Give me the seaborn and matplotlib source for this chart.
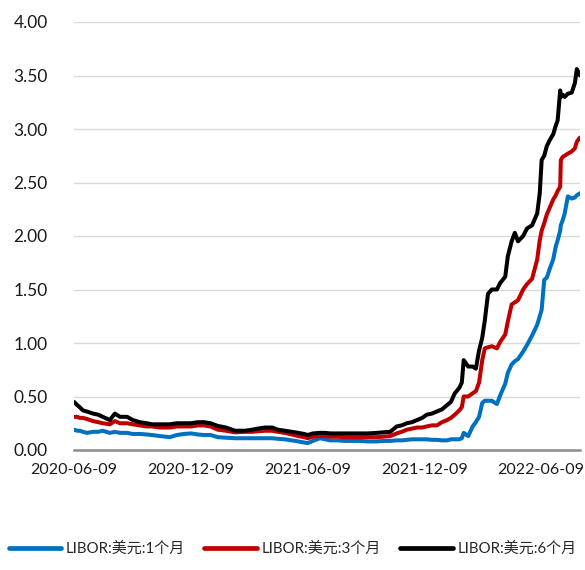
import matplotlib
matplotlib.use("Agg")
import matplotlib.pyplot as plt
import seaborn as sns
import pandas as pd

dates = [
    "2020-06-09", "2020-06-14", "2020-06-18", "2020-06-23", "2020-06-29", "2020-07-09",
    "2020-07-17", "2020-07-24", "2020-08-04", "2020-08-12", "2020-08-20", "2020-08-31",
    "2020-09-09", "2020-09-20", "2020-10-01", "2020-10-09", "2020-10-22", "2020-11-06",
    "2020-11-17", "2020-11-28", "2020-12-09", "2020-12-20", "2020-12-29", "2021-01-09",
    "2021-01-20", "2021-02-02", "2021-02-16", "2021-03-04", "2021-03-15", "2021-03-24",
    "2021-04-04", "2021-04-15", "2021-04-24", "2021-05-05", "2021-05-16", "2021-05-26",
    "2021-06-04", "2021-06-10", "2021-06-18", "2021-06-29", "2021-07-07", "2021-07-15",
    "2021-07-26", "2021-08-07", "2021-08-18", "2021-08-31", "2021-09-12", "2021-09-26",
    "2021-10-06", "2021-10-17", "2021-10-27", "2021-11-04", "2021-11-12", "2021-11-20",
    "2021-11-28", "2021-12-06", "2021-12-13", "2021-12-21", "2021-12-29",
    "2022-01-06", "2022-01-14", "2022-01-20", "2022-01-26", "2022-02-02", "2022-02-06",
    "2022-02-09", "2022-02-16", "2022-02-23", "2022-02-28", "2022-03-05", "2022-03-10",
    "2022-03-14", "2022-03-19", "2022-03-25", "2022-04-02", "2022-04-07", "2022-04-15",
    "2022-04-19", "2022-04-25", "2022-04-30", "2022-05-05", "2022-05-13", "2022-05-19",
    "2022-05-27", "2022-06-04", "2022-06-08", "2022-06-11", "2022-06-15", "2022-06-19",
    "2022-06-24", "2022-06-29", "2022-07-03", "2022-07-06", "2022-07-10", "2022-07-11",
    "2022-07-14", "2022-07-17", "2022-07-22", "2022-07-28", "2022-08-02", "2022-08-05",
    "2022-08-10",
]

libor_6m = [
    0.45, 0.42, 0.40, 0.37, 0.36, 0.34,
    0.33, 0.31, 0.28, 0.34, 0.31, 0.31,
    0.28, 0.26, 0.25, 0.24, 0.24, 0.24,
    0.25, 0.25, 0.25, 0.26, 0.26, 0.25,
    0.225, 0.21, 0.18, 0.18, 0.19, 0.20,
    0.21, 0.21, 0.19, 0.18, 0.17, 0.16,
    0.15, 0.14, 0.155, 0.16, 0.16, 0.155,
    0.155, 0.155, 0.155, 0.155, 0.155, 0.16,
    0.165, 0.17, 0.22, 0.23, 0.25, 0.26,
    0.28, 0.30, 0.33, 0.34, 0.36,
    0.38, 0.42, 0.45, 0.53, 0.58, 0.63,
    0.84, 0.78, 0.78, 0.76, 0.93, 1.05,
    1.21, 1.46, 1.50, 1.50, 1.56, 1.62,
    1.81, 1.95, 2.03, 1.95, 2.00, 2.07,
    2.10, 2.21, 2.40, 2.71, 2.75, 2.84,
    2.90, 2.95, 3.03, 3.08, 3.36, 3.30,
    3.32, 3.30, 3.33, 3.34, 3.43, 3.56,
    3.50,
]

libor_3m = [
    0.31, 0.31, 0.30, 0.30, 0.29, 0.27,
    0.26, 0.25, 0.24, 0.27, 0.25, 0.25,
    0.24, 0.23, 0.22, 0.22, 0.21, 0.21,
    0.22, 0.22, 0.22, 0.23, 0.23, 0.22,
    0.19, 0.18, 0.165, 0.17, 0.17, 0.175,
    0.18, 0.18, 0.17, 0.16, 0.145, 0.13,
    0.12, 0.11, 0.125, 0.13, 0.13, 0.125,
    0.125, 0.12, 0.12, 0.12, 0.12, 0.12,
    0.125, 0.13, 0.155, 0.17, 0.19, 0.20,
    0.21, 0.21, 0.22, 0.23, 0.23,
    0.26, 0.28, 0.30, 0.33, 0.37, 0.40,
    0.50, 0.50, 0.53, 0.55, 0.63, 0.84,
    0.95, 0.96, 0.97, 0.95, 1.01, 1.08,
    1.20, 1.36, 1.38, 1.40, 1.50, 1.55,
    1.60, 1.78, 1.96, 2.05, 2.12, 2.20,
    2.27, 2.34, 2.38, 2.42, 2.46, 2.71,
    2.74, 2.75, 2.77, 2.79, 2.82, 2.88,
    2.92,
]

libor_1m = [
    0.19, 0.18, 0.18, 0.17, 0.16, 0.17,
    0.17, 0.18, 0.16, 0.17, 0.16, 0.16,
    0.15, 0.15, 0.145, 0.14, 0.13, 0.12,
    0.14, 0.15, 0.155, 0.145, 0.14, 0.14,
    0.12, 0.115, 0.11, 0.11, 0.11, 0.11,
    0.11, 0.11, 0.105, 0.10, 0.09, 0.08,
    0.07, 0.065, 0.085, 0.11, 0.10, 0.09,
    0.09, 0.085, 0.085, 0.085, 0.08, 0.08,
    0.085, 0.085, 0.09, 0.09, 0.095, 0.10,
    0.10, 0.10, 0.10, 0.095, 0.095,
    0.09, 0.09, 0.10, 0.10, 0.10, 0.11,
    0.16, 0.13, 0.22, 0.26, 0.31, 0.44,
    0.46, 0.46, 0.46, 0.43, 0.51, 0.62,
    0.72, 0.80, 0.83, 0.85, 0.92, 0.98,
    1.07, 1.17, 1.25, 1.31, 1.59, 1.61,
    1.70, 1.78, 1.90, 1.96, 2.05, 2.10,
    2.15, 2.21, 2.37, 2.35, 2.36, 2.38,
    2.40,
]

series_names = ["LIBOR:美元:1个月", "LIBOR:美元:3个月", "LIBOR:美元:6个月"]
colors = ["#0070C0", "#C00000", "#000000"]
y_ticks = [0.0, 0.5, 1.0, 1.5, 2.0, 2.5, 3.0, 3.5, 4.0]
x_ticks = ["2020-06-09", "2020-12-09", "2021-06-09", "2021-12-09", "2022-06-09"]

sns.set_theme(style="white")
plt.rcParams["font.family"] = ["Lato", "Noto Sans CJK SC", "DejaVu Sans"]

d = pd.to_datetime(dates)
df = pd.concat([
    pd.DataFrame({"date": d, "value": libor_1m, "series": series_names[0]}),
    pd.DataFrame({"date": d, "value": libor_3m, "series": series_names[1]}),
    pd.DataFrame({"date": d, "value": libor_6m, "series": series_names[2]}),
])

fig = plt.figure(figsize=(5.85, 5.70), dpi=100)
ax = fig.add_axes([74 / 585, 1 - 450 / 570, (580 - 74) / 585, (450 - 22) / 570])

sns.lineplot(data=df, x="date", y="value", hue="series", hue_order=series_names,
             palette=colors, linewidth=2.9, ax=ax, legend=False)

ax.set_ylim(0, 4.0)
ax.set_xlim(pd.Timestamp(dates[0]), pd.Timestamp(dates[-1]))
ax.set_yticks(y_ticks)
ax.set_yticklabels([f"{v:.2f}" for v in y_ticks])
ax.set_xticks(pd.to_datetime(x_ticks))
ax.set_xticklabels(x_ticks)
ax.grid(axis="y", color="#d9d9d9", linewidth=1.0)
ax.grid(axis="x", visible=False)
ax.set_axisbelow(True)
for s in ["top", "right", "left"]:
    ax.spines[s].set_visible(False)
ax.spines["bottom"].set_color("#8c8c8c")
ax.spines["bottom"].set_linewidth(1.8)
ax.tick_params(axis="y", length=0, pad=19, labelsize=12.5, labelcolor="#1a1a1a")
ax.tick_params(axis="x", length=0, pad=9, labelsize=11.5, labelcolor="#1a1a1a")
ax.set_xlabel("")
ax.set_ylabel("")

handles = [plt.Line2D([], [], color=c, linewidth=3.4) for c in colors]
fig.legend(handles, series_names, loc="center", bbox_to_anchor=(0.5, 1 - 549 / 570),
           ncol=3, frameon=False, fontsize=10.8, handlelength=3.5, handletextpad=0.3,
           columnspacing=1.3)

fig.savefig("out.png", dpi=100)
